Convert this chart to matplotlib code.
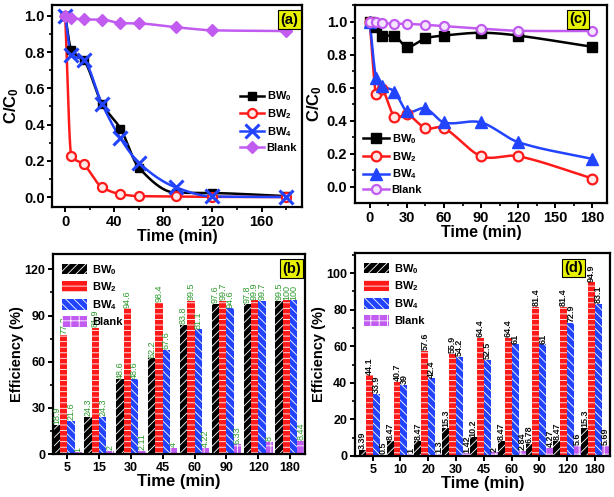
import numpy as np
import matplotlib
matplotlib.use("Agg")
import matplotlib.pyplot as plt
from matplotlib.lines import Line2D
from matplotlib.patches import Patch
from matplotlib.ticker import MultipleLocator

plt.rcParams['font.family'] = ['Liberation Sans', 'DejaVu Sans']
plt.rcParams['font.weight'] = 'bold'
plt.rcParams['axes.labelweight'] = 'bold'
plt.rcParams['mathtext.fontset'] = 'custom'
plt.rcParams['mathtext.rm'] = 'Liberation Sans:bold'
plt.rcParams['mathtext.it'] = 'Liberation Sans:bold'
plt.rcParams['mathtext.bf'] = 'Liberation Sans:bold'
plt.rcParams['hatch.linewidth'] = 0.6

# ---------------- data ----------------
series_names = ['BW$_0$', 'BW$_2$', 'BW$_4$', 'Blank']

# panel (a): C/C0 vs time
time_a = [0, 5, 15, 30, 45, 60, 90, 120, 180]
a_bw0 = [1.0, 0.811, 0.757, 0.514, 0.378, 0.162, 0.024, 0.022, 0.005]
a_bw2 = [1.0, 0.227, 0.181, 0.054, 0.016, 0.005, 0.003, 0.001, 0.0]
a_bw4 = [1.0, 0.784, 0.757, 0.514, 0.324, 0.189, 0.054, 0.003, 0.0]
a_blank = [1.0, 0.99, 0.98, 0.979, 0.96, 0.958, 0.937, 0.92, 0.916]

# panel (c): C/C0 vs time
time_c = [0, 5, 10, 20, 30, 45, 60, 90, 120, 180]
c_bw0 = [1.0, 0.966, 0.915, 0.915, 0.847, 0.898, 0.915, 0.932, 0.915, 0.847]
c_bw2 = [1.0, 0.559, 0.593, 0.424, 0.441, 0.356, 0.356, 0.186, 0.186, 0.051]
c_bw4 = [1.0, 0.661, 0.61, 0.576, 0.458, 0.475, 0.39, 0.39, 0.271, 0.169]
c_blank = [1.0, 0.995, 0.99, 0.987, 0.986, 0.98, 0.972, 0.957, 0.944, 0.943]

# panel (b): efficiency (%)
cats_b = ['5', '15', '30', '45', '60', '90', '120', '180']
b_bw0 = [18.9, 24.3, 48.6, 62.2, 83.8, 97.6, 97.8, 99.5]
b_bw2 = [77.3, 81.9, 94.6, 98.4, 99.5, 99.7, 99.9, 100]
b_bw4 = [21.6, 24.3, 48.6, 67.6, 81.1, 94.6, 99.7, 100]
b_blank = [1, 2, 2.11, 4, 4.22, 6.33, 8, 8.44]

# panel (d): efficiency (%)
cats_d = ['5', '10', '20', '30', '45', '60', '90', '120', '180']
d_bw0 = [3.39, 8.47, 8.47, 15.3, 10.2, 8.47, 6.78, 8.47, 15.3]
d_bw2 = [44.1, 40.7, 57.6, 55.9, 64.4, 64.4, 81.4, 81.4, 94.9]
d_bw4 = [33.9, 39, 42.4, 54.2, 52.5, 61, 61, 72.9, 83.1]
d_blank = [0.5, 1, 1.3, 1.42, 2, 2.84, 4.27, 5.6, 5.69]

BLACK = '#000000'
RED = '#FF1A1A'
BLUE = '#2244FF'
VIOLET = '#C25CF0'
LABEL_BG = '#E6F000'


def pchip_path(x, y, n=400):
    """Monotone cubic path through the data points (drawing only)."""
    x = np.asarray(x, float)
    y = np.asarray(y, float)
    h = np.diff(x)
    dl = np.diff(y) / h
    d = np.zeros_like(y)
    for k in range(1, len(x) - 1):
        if dl[k - 1] * dl[k] > 0:
            w1 = 2 * h[k] + h[k - 1]
            w2 = h[k] + 2 * h[k - 1]
            d[k] = (w1 + w2) / (w1 / dl[k - 1] + w2 / dl[k])
    d[0] = dl[0]
    d[-1] = dl[-1]
    return hermite(x, y, d, n)


def cardinal_path(x, y, n=400, tension=0.0):
    """Catmull-Rom style path through the data points (drawing only)."""
    x = np.asarray(x, float)
    y = np.asarray(y, float)
    d = np.zeros_like(y)
    d[1:-1] = (1 - tension) * (y[2:] - y[:-2]) / (x[2:] - x[:-2])
    d[0] = (y[1] - y[0]) / (x[1] - x[0])
    d[-1] = (y[-1] - y[-2]) / (x[-1] - x[-2])
    return hermite(x, y, d, n)


def hermite(x, y, d, n):
    h = np.diff(x)
    xs = np.linspace(x[0], x[-1], n)
    idx = np.clip(np.searchsorted(x, xs) - 1, 0, len(x) - 2)
    t = (xs - x[idx]) / h[idx]
    h00 = 2 * t**3 - 3 * t**2 + 1
    h10 = t**3 - 2 * t**2 + t
    h01 = -2 * t**3 + 3 * t**2
    h11 = t**3 - t**2
    ys = h00 * y[idx] + h10 * h[idx] * d[idx] + h01 * y[idx + 1] + h11 * h[idx] * d[idx + 1]
    return xs, ys


def style_axes(ax, tick_size):
    for s in ax.spines.values():
        s.set_linewidth(1.6)
    ax.tick_params(which='major', direction='out', length=3.5, width=1.4,
                   labelsize=tick_size, pad=2)
    ax.tick_params(which='minor', direction='out', length=2, width=1.2)
    for lab in ax.get_xticklabels() + ax.get_yticklabels():
        lab.set_fontweight('bold')


def panel_label(ax, txt, size, xr=0.985):
    ax.text(xr, 0.962, txt, transform=ax.transAxes, ha='right', va='top',
            fontsize=size, fontweight='bold',
            bbox=dict(boxstyle='square,pad=0.15', fc=LABEL_BG, ec='black', lw=0.8))


fig = plt.figure(figsize=(6.14, 4.97), dpi=100)

# ---------------- panel (a) ----------------
axa = fig.add_axes([0.085, 0.5835, 0.407, 0.4065])
line_specs_a = [
    (a_bw0, BLACK, dict(marker='s', ms=6, mfc=BLACK, mec=BLACK)),
    (a_bw2, RED, dict(marker='o', ms=6.5, mfc='#FFE8E8', mec=RED, mew=1.6)),
    (a_bw4, BLUE, dict(marker='x', ms=10, mec=BLUE, mew=2.2)),
    (a_blank, VIOLET, dict(marker='D', ms=6.5, mfc=VIOLET, mec=VIOLET)),
]
handles = []
for vals, col, mk in line_specs_a:
    xs, ys = pchip_path(time_a, vals)
    axa.plot(xs, ys, color=col, lw=1.8, zorder=2)
    axa.plot(time_a, vals, ls='none', zorder=3, **mk)
    handles.append(Line2D([], [], color=col, lw=1.8, **mk))
axa.set_xlim(-10.6, 193)
axa.set_ylim(-0.055, 1.06)
axa.xaxis.set_major_locator(MultipleLocator(40))
axa.xaxis.set_minor_locator(MultipleLocator(20))
axa.yaxis.set_major_locator(MultipleLocator(0.2))
axa.yaxis.set_minor_locator(MultipleLocator(0.1))
axa.set_xlabel('Time (min)', fontsize=11.5, fontweight='bold', labelpad=0)
axa.set_ylabel('C/C$_0$', fontsize=12, fontweight='bold', labelpad=2)
style_axes(axa, 10.5)
axa.legend(handles, series_names, loc='upper left', bbox_to_anchor=(0.72, 0.62),
           frameon=False, prop=dict(size=8, weight='bold'), handlelength=2.2,
           handletextpad=0.2, labelspacing=0.35, borderpad=0.2)
panel_label(axa, '(a)', 10.5)

# ---------------- panel (c) ----------------
axc = fig.add_axes([0.578, 0.5915, 0.411, 0.3985])
line_specs_c = [
    (c_bw0, BLACK, dict(marker='s', ms=7, mfc=BLACK, mec=BLACK)),
    (c_bw2, RED, dict(marker='o', ms=7, mfc='#FFE8E8', mec=RED, mew=1.6)),
    (c_bw4, BLUE, dict(marker='^', ms=8, mfc=BLUE, mec=BLUE)),
    (c_blank, VIOLET, dict(marker='o', ms=6.5, mfc='#F5E6FF', mec=VIOLET, mew=1.6)),
]
handles = []
for vals, col, mk in line_specs_c:
    xs, ys = cardinal_path(time_c, vals)
    axc.plot(xs, ys, color=col, lw=1.8, zorder=2)
    axc.plot(time_c, vals, ls='none', zorder=3, **mk)
    handles.append(Line2D([], [], color=col, lw=1.8, **mk))
axc.set_xlim(-12, 192)
axc.set_ylim(-0.097, 1.10)
axc.xaxis.set_major_locator(MultipleLocator(30))
axc.xaxis.set_minor_locator(MultipleLocator(15))
axc.yaxis.set_major_locator(MultipleLocator(0.2))
axc.yaxis.set_minor_locator(MultipleLocator(0.1))
axc.set_xlabel('Time (min)', fontsize=11.5, fontweight='bold', labelpad=0)
axc.set_ylabel('C/C$_0$', fontsize=12, fontweight='bold', labelpad=2)
style_axes(axc, 10.5)
axc.legend(handles, series_names, loc='lower left', bbox_to_anchor=(0.0, 0.0),
           frameon=False, prop=dict(size=8, weight='bold'), handlelength=2.4,
           handletextpad=0.2, labelspacing=0.35, borderpad=0.2)
panel_label(axc, '(c)', 10.5, xr=0.92)


# ---------------- bar panels ----------------
def bar_panel(ax, cats, groups, width, label_color, label_weight):
    hatches = ['////', '---', '\\\\\\\\', '++']
    colors = [BLACK, RED, BLUE, VIOLET]
    x = np.arange(len(cats))
    handles = []
    for i, (vals, col, hat) in enumerate(zip(groups, colors, hatches)):
        pos = x + (i - 1.5) * width
        ax.bar(pos, vals, width, color=col, edgecolor='white', hatch=hat, lw=0, zorder=2)
        for p, v in zip(pos, vals):
            ax.text(p, v + 0.4, f'{v:g}', rotation=90, ha='center', va='bottom',
                    fontsize=6.5, color=label_color, fontweight=label_weight, zorder=4)
        handles.append(Patch(facecolor=col, edgecolor='white', hatch=hat, lw=0))
    ax.set_xticks(x)
    ax.set_xticklabels(cats)
    return handles


axb = fig.add_axes([0.0863, 0.0865, 0.4104, 0.4025])
hb = bar_panel(axb, cats_b, [b_bw0, b_bw2, b_bw4, b_blank], 0.23, '#2E9A2E', 'normal')
axb.set_xlim(-0.45, 7.47)
axb.set_ylim(0, 130)
axb.yaxis.set_major_locator(MultipleLocator(30))
axb.yaxis.set_minor_locator(MultipleLocator(15))
axb.set_xlabel('Time (min)', fontsize=12, fontweight='bold', labelpad=0)
axb.set_ylabel('Efficiency (%)', fontsize=10.5, fontweight='bold', labelpad=0)
style_axes(axb, 9)
axb.tick_params(axis='x', which='minor', bottom=False)
axb.legend(hb, series_names, loc='upper left', bbox_to_anchor=(0.0, 1.0), frameon=False,
           prop=dict(size=8, weight='bold'), handlelength=2.3, handleheight=1.1,
           handletextpad=0.4, labelspacing=0.35, borderpad=0.3)
panel_label(axb, '(b)', 10.5)

axd = fig.add_axes([0.578, 0.0825, 0.4155, 0.4085])
hd = bar_panel(axd, cats_d, [d_bw0, d_bw2, d_bw4, d_blank], 0.25, '#111111', 'bold')
axd.set_xlim(-0.64, 8.54)
axd.set_ylim(0, 111)
axd.yaxis.set_major_locator(MultipleLocator(20))
axd.yaxis.set_minor_locator(MultipleLocator(10))
axd.set_xlabel('Time (min)', fontsize=12, fontweight='bold', labelpad=0)
axd.set_ylabel('Efficiency (%)', fontsize=10.5, fontweight='bold', labelpad=0)
style_axes(axd, 9)
axd.tick_params(axis='x', which='minor', bottom=False)
axd.legend(hd, series_names, loc='upper left', bbox_to_anchor=(0.0, 1.0), frameon=False,
           prop=dict(size=8, weight='bold'), handlelength=2.3, handleheight=1.1,
           handletextpad=0.4, labelspacing=0.35, borderpad=0.3)
panel_label(axd, '(d)', 10.5, xr=0.895)

fig.savefig('out.png', dpi=100)
